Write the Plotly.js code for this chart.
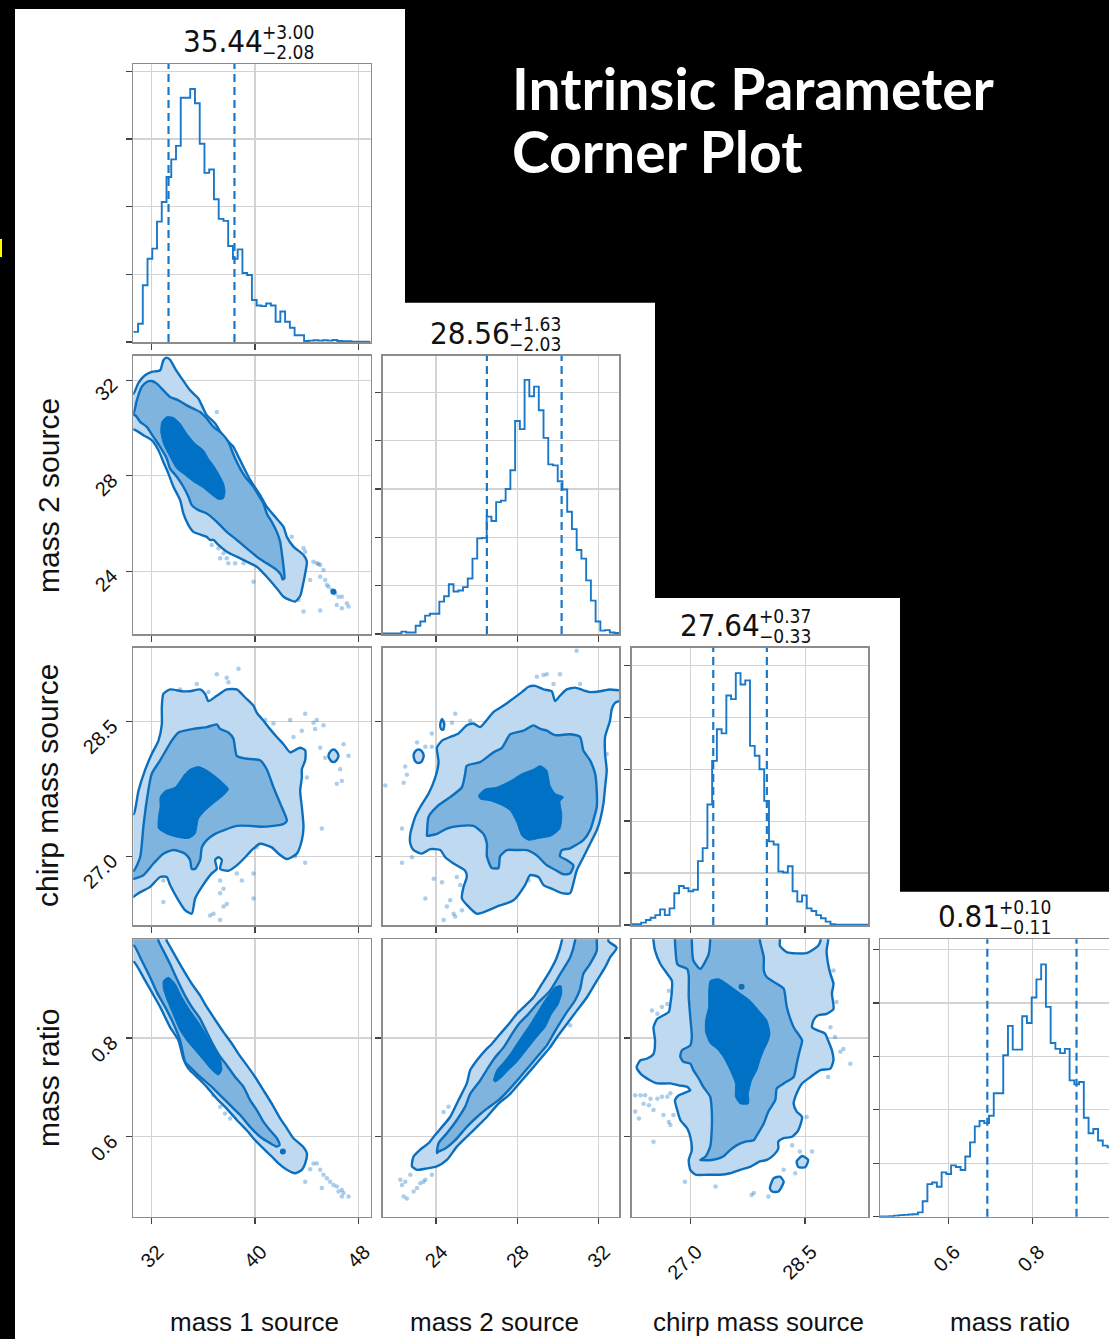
<!DOCTYPE html>
<html><head><meta charset="utf-8">
<script src="https://cdn.plot.ly/plotly-3.0.1.min.js"></script>
<style>html,body{margin:0;padding:0;background:#000;overflow:hidden;width:1109px;height:1339px}#plot{width:1120px;height:1339px}</style>
</head><body><div id="plot"></div><script>
// ---------------- data ----------------
const paramNames = ['mass 1 source','mass 2 source','chirp mass source','mass ratio'];
const medians = ['35.44','28.56','27.64','0.81'];
const errPlus = ['+3.00','+1.63','+0.37','+0.10'];
const errMinus = ['\u22122.08','\u22122.03','\u22120.33','\u22120.11'];
const q16 = [33.30, 26.51, 27.30, 0.6925];
const q84 = [38.41, 30.19, 28.00, 0.904];
const axisRanges = [[30.57,48.95],[21.37,33.03],[26.235,29.325],[0.438,1.0]];
const tickVals = [[32,40,48],[24,28,32],[27.0,28.5],[0.6,0.8]];
const tickFormats = ['d','d','.1f','.1f'];

const hist_m1 = [0.15,0.27,0.84,1.23,1.38,1.78,2.07,2.44,2.70,2.90,
 3.61,3.61,3.74,3.53,2.93,2.50,2.55,2.11,1.82,1.79,
 1.42,1.23,1.37,1.02,0.99,0.62,0.54,0.53,0.57,0.54,
 0.30,0.45,0.30,0.21,0.10,0.10,0.015,0.02,0.025,0.02,
 0.025,0.02,0.03,0.015,0.01,0.01,0.005,0.005,0.005,0.005];
const hist_m2 = [0.01,0.01,0.01,0.01,0.05,0.03,0.03,0.17,0.26,0.38,
 0.42,0.42,0.67,0.78,1.03,0.88,0.90,0.97,1.15,1.56,
 1.98,1.99,2.43,2.34,2.73,2.76,3.00,3.39,4.41,4.24,
 5.26,4.92,5.12,4.63,4.06,3.51,3.49,3.16,2.99,2.53,
 2.17,1.74,1.56,1.11,0.69,0.26,0.07,0.08,0.03,0.02];
const hist_mc = [0.013,0.013,0.045,0.097,0.14,0.19,0.30,0.19,0.32,0.61,
 0.75,0.71,0.65,0.68,1.23,1.48,2.32,3.16,3.77,3.69,
 4.42,4.35,4.85,4.63,4.71,3.45,3.26,3.00,2.39,1.61,
 1.55,1.03,1.01,1.13,0.65,0.45,0.57,0.32,0.27,0.19,
 0.13,0.065,0.013,0.004,0.004,0.004,0.004,0.004,0.004,0.004];
const hist_q = [0.005,0.005,0.01,0.02,0.03,0.035,0.04,0.045,0.08,0.29,
 0.61,0.64,0.56,0.83,0.80,0.96,0.93,0.875,1.125,1.39,
 1.69,1.79,1.75,1.89,2.31,2.31,3.02,3.57,3.125,3.125,
 3.75,3.625,4.10,4.44,4.72,3.925,3.25,3.14,3.06,3.14,
 2.55,2.475,2.52,1.85,1.56,1.64,1.425,1.33,1.30,1.20];

// 2D credible-region outlines, [x, y] in data units (null separates pieces)
const m1m2_outer = [[30.3,31.44],[30.58,31.44],[30.97,31.89],[31.48,32.21],[32.0,32.35],[32.65,32.42],[32.90,32.84],[33.16,32.95],[33.42,32.86],[33.81,32.49],[34.33,32.07],[34.97,31.58],[35.62,31.23],[35.88,30.95],[36.26,30.54],[36.91,30.19],[37.56,29.63],[38.33,29.21],[38.72,28.79],[39.11,28.37],[39.49,27.96],[39.88,27.61],[40.40,27.19],[40.91,26.70],[41.56,26.28],[42.21,25.86],[42.47,25.44],[42.98,25.03],[43.76,24.68],[44.02,24.40],[43.89,23.91],[43.71,23.42],[43.50,22.96],[43.11,22.73],[42.72,22.79],[42.21,22.93],[41.69,23.28],[40.91,23.77],[40.14,24.19],[39.36,24.40],[38.59,24.61],[37.81,24.82],[37.17,25.10],[36.78,25.31],[36.52,25.31],[36.26,25.44],[35.23,25.65],[34.84,25.93],[34.45,26.42],[34.20,26.98],[33.68,27.54],[33.29,28.09],[32.90,28.58],[32.52,29.07],[32.0,29.49],[31.35,29.70],[30.97,29.84],[30.58,29.94],[30.3,29.94]];
const m1m2_mid = [[30.3,30.61],[30.58,30.61],[30.84,31.16],[31.22,31.72],[31.61,31.93],[32.0,31.97],[32.39,31.86],[32.90,31.58],[33.42,31.30],[34.07,31.16],[34.71,30.95],[35.23,30.81],[35.75,30.67],[36.26,30.40],[36.78,30.05],[37.43,29.77],[37.94,29.42],[38.20,29.07],[38.46,28.72],[38.85,28.30],[39.24,27.96],[39.88,27.54],[40.27,27.19],[40.66,26.84],[40.91,26.42],[41.30,26.07],[41.69,25.65],[41.95,25.24],[42.08,24.75],[42.21,24.19],[42.28,23.70],[42.13,23.66],[42.03,23.84],[41.69,24.05],[40.91,24.33],[40.14,24.61],[39.36,24.96],[38.59,25.31],[37.81,25.65],[37.04,26.07],[36.26,26.42],[35.62,26.56],[35.10,26.77],[34.84,27.12],[34.45,27.54],[33.94,27.96],[33.42,28.30],[33.16,28.72],[32.65,29.21],[32.13,29.63],[31.61,30.05],[31.10,30.26],[30.71,30.54],[30.3,30.54]];
const m1m2_core = [[32.78,30.26],[33.16,30.47],[33.68,30.44],[34.20,30.19],[34.71,29.77],[35.36,29.35],[36.01,29.07],[36.39,28.72],[36.78,28.44],[37.17,28.09],[37.56,27.68],[37.68,27.33],[37.56,27.05],[37.17,27.01],[36.52,27.26],[35.88,27.54],[35.23,27.75],[34.58,28.03],[33.94,28.30],[33.42,28.79],[32.90,29.35],[32.70,29.84]];
const m1m2_pts = [[37.04,30.67],[37.04,30.02],[37.81,29.42],[36.65,25.10],[37.17,24.96],[37.56,24.75],[37.81,24.54],[37.30,24.54],[37.94,24.33],[38.46,24.33],[39.11,24.33],[39.88,23.56],[42.85,25.44],[43.76,24.96],[43.89,24.82],[44.53,24.40],[44.79,24.33],[44.92,24.30],[45.05,24.26],[45.31,24.05],[45.05,23.77],[45.44,23.63],[45.57,23.42],[45.70,23.35],[45.95,23.21],[46.21,23.07],[46.47,22.93],[46.73,22.93],[47.12,22.66],[47.25,22.52],[46.73,22.45],[46.34,22.59],[45.05,22.35],[43.76,22.31],[43.37,22.79],[44.27,23.63]];
const m1m2_dots = [[46.08,23.14]];

const m1mc_outer = [[30.3,27.47],[30.6,27.47],[30.97,27.73],[31.48,27.96],[32.0,28.14],[32.52,28.29],[32.78,28.47],[32.78,28.66],[32.90,28.81],[33.42,28.86],[34.33,28.84],[34.97,28.84],[35.75,28.86],[36.14,28.81],[36.39,28.73],[37.04,28.79],[37.81,28.86],[38.59,28.86],[39.24,28.77],[39.88,28.68],[40.14,28.60],[40.66,28.51],[41.04,28.44],[41.69,28.33],[42.21,28.25],[42.72,28.16],[43.50,28.21],[43.89,28.18],[43.89,28.07],[43.63,27.97],[43.63,27.88],[43.50,27.73],[43.63,27.55],[43.76,27.33],[43.63,27.18],[43.24,27.03],[42.47,26.97],[41.82,27.03],[41.30,27.10],[40.40,27.14],[39.75,27.07],[39.24,26.99],[38.59,26.90],[37.94,26.84],[37.30,26.86],[37.43,26.96],[37.17,26.99],[36.91,26.96],[37.04,26.86],[36.65,26.81],[35.88,26.66],[35.36,26.53],[35.10,26.36],[34.58,26.40],[34.07,26.51],[33.42,26.68],[33.16,26.77],[32.65,26.77],[31.87,26.66],[30.97,26.59],[30.6,26.55],[30.3,26.55],null,[45.69,28.12],[45.85,28.17],[46.08,28.19],[46.31,28.17],[46.47,28.12],[46.31,28.07],[46.08,28.05],[45.85,28.07]];
const m1mc_mid = [[30.3,26.84],[30.6,26.84],[31.10,26.99],[31.35,27.33],[31.61,27.62],[32.0,27.92],[32.65,28.07],[33.55,28.29],[34.07,28.38],[35.23,28.42],[36.26,28.44],[37.04,28.47],[37.30,28.42],[37.94,28.38],[38.33,28.31],[38.59,28.12],[39.24,28.09],[40.40,28.07],[40.91,27.97],[41.43,27.77],[41.95,27.59],[42.47,27.40],[42.21,27.36],[41.43,27.34],[40.40,27.33],[39.62,27.34],[38.59,27.34],[37.56,27.29],[36.91,27.25],[36.26,27.18],[35.88,27.10],[35.75,26.96],[35.36,26.86],[35.10,26.86],[34.97,26.96],[34.58,27.03],[33.68,27.07],[32.90,27.03],[32.13,26.92],[31.35,26.79],[30.6,26.75],[30.3,26.75]];
const m1mc_core = [[32.65,27.66],[33.03,27.73],[33.81,27.77],[34.58,27.92],[34.97,27.97],[35.62,28.00],[36.26,27.96],[37.04,27.88],[37.94,27.75],[37.56,27.68],[36.78,27.59],[36.14,27.51],[35.62,27.42],[35.36,27.25],[34.84,27.20],[34.07,27.21],[33.16,27.25],[32.52,27.31],[32.52,27.44],[32.65,27.55]];
const m1mc_pts = [[37.04,29.03],[37.81,28.99],[38.72,29.09],[35.49,28.92],[36.39,28.83],[34.20,28.86],[37.94,28.94],[40.79,28.52],[41.43,28.48],[42.72,28.52],[43.89,28.59],[44.53,28.49],[44.79,28.52],[44.66,28.42],[45.31,28.46],[42.98,28.33],[43.63,28.40],[45.05,28.21],[45.44,28.10],[46.60,27.97],[47.25,28.12],[46.86,28.25],[46.34,27.81],[46.73,27.84],[44.02,27.88],[45.18,27.31],[43.89,26.93],[43.11,27.00],[40.14,27.10],[39.88,26.81],[39.88,26.53],[38.98,26.73],[38.59,26.81],[37.30,26.73],[37.56,26.64],[37.30,26.59],[37.81,26.47],[37.56,26.44],[36.78,26.36],[37.30,26.29],[36.52,26.34],[32.90,26.49],[32.90,26.73]];

const m2mc_outer = [[22.74,27.25],[22.98,27.44],[23.23,27.55],[23.64,27.70],[23.97,27.88],[24.13,28.05],[24.05,28.21],[24.30,28.29],[24.70,28.33],[25.11,28.37],[25.52,28.46],[25.85,28.48],[26.18,28.44],[26.51,28.52],[26.84,28.61],[27.33,28.68],[27.82,28.76],[28.23,28.83],[28.56,28.89],[28.89,28.90],[29.30,28.86],[29.70,28.84],[29.87,28.73],[30.11,28.79],[30.44,28.86],[30.85,28.88],[31.26,28.85],[31.59,28.83],[32.08,28.84],[32.57,28.86],[33.03,28.85],[33.3,28.85],[33.3,28.73],[33.03,28.73],[32.82,28.71],[32.66,28.64],[32.57,28.51],[32.33,28.33],[32.33,28.14],[32.41,27.96],[32.33,27.77],[32.25,27.59],[32.08,27.40],[31.92,27.29],[31.59,27.14],[31.26,26.99],[30.93,26.84],[30.77,26.70],[30.61,26.59],[30.20,26.59],[29.70,26.64],[29.30,26.68],[29.05,26.77],[28.64,26.79],[28.39,26.68],[27.82,26.51],[27.00,26.44],[26.02,26.36],[25.52,26.46],[25.28,26.53],[25.36,26.66],[25.52,26.77],[25.44,26.84],[24.87,26.92],[24.46,26.99],[24.21,27.07],[23.72,27.08],[23.31,27.03],[22.90,27.07],[22.74,27.14],null,[22.90,28.12],[22.98,28.17],[23.15,28.19],[23.31,28.17],[23.40,28.12],[23.31,28.06],[23.15,28.04],[22.98,28.06],null,[24.21,28.47],[24.30,28.53],[24.41,28.48],[24.36,28.41],[24.25,28.42]];
const m2mc_mid = [[23.56,27.25],[23.64,27.44],[24.13,27.57],[24.70,27.66],[25.28,27.77],[25.44,27.92],[25.52,28.01],[26.18,28.05],[26.84,28.16],[27.25,28.21],[27.66,28.36],[28.31,28.40],[28.80,28.46],[29.13,28.42],[29.46,28.40],[29.87,28.35],[30.61,28.36],[31.10,28.33],[31.26,28.18],[31.59,28.07],[31.84,27.92],[31.92,27.73],[31.92,27.55],[31.75,27.40],[31.59,27.29],[31.26,27.18],[30.61,27.09],[30.20,27.07],[30.11,27.00],[30.44,26.96],[30.77,26.90],[30.61,26.81],[30.28,26.80],[29.87,26.85],[29.46,26.90],[28.97,27.01],[28.48,27.07],[27.98,27.07],[27.49,27.07],[27.16,27.00],[27.08,26.87],[26.75,26.87],[26.51,27.00],[26.51,27.14],[26.34,27.25],[25.85,27.34],[25.20,27.34],[24.54,27.31],[24.05,27.25],[23.56,27.23]];
const m2mc_core = [[26.10,27.68],[26.43,27.75],[27.00,27.77],[27.66,27.84],[28.23,27.92],[28.80,27.97],[29.13,28.01],[29.46,27.96],[29.62,27.79],[29.87,27.70],[30.28,27.66],[30.11,27.61],[30.20,27.46],[30.11,27.31],[29.70,27.23],[29.05,27.20],[28.56,27.18],[28.23,27.23],[27.98,27.38],[27.66,27.51],[27.25,27.57],[26.67,27.62],[26.18,27.64]];
const m2mc_pts = [[29.46,29.03],[29.79,28.92],[31.10,28.92],[28.97,29.00],[29.30,29.02],[30.11,29.03],[25.69,28.51],[24.95,28.59],[24.79,28.49],[25.03,28.33],[23.80,28.37],[23.48,28.22],[23.80,28.22],[23.07,28.27],[22.49,28.00],[22.57,27.91],[22.41,27.82],[21.51,27.79],[22.33,27.31],[22.82,26.99],[22.33,26.93],[23.89,26.75],[24.30,26.71],[25.03,26.77],[25.20,26.68],[24.70,26.51],[24.54,26.44],[24.87,26.36],[25.28,26.40],[24.38,26.29],[24.95,26.33],[23.48,26.53],[28.31,26.73],[28.56,26.73],[32.41,28.14],[32.25,28.20],[30.93,29.29]];

const m1q_outer = [[30.3,0.954],[30.63,0.954],[31.35,0.923],[32.0,0.893],[32.65,0.863],[33.42,0.822],[34.07,0.795],[34.45,0.758],[34.84,0.738],[35.62,0.718],[36.26,0.701],[37.04,0.677],[37.81,0.657],[38.59,0.634],[39.36,0.613],[40.01,0.593],[40.66,0.576],[41.30,0.560],[41.82,0.546],[42.47,0.533],[43.11,0.526],[43.63,0.533],[43.89,0.546],[44.02,0.566],[43.71,0.580],[42.98,0.597],[42.47,0.617],[41.95,0.637],[41.30,0.667],[40.66,0.694],[40.01,0.721],[39.36,0.745],[38.72,0.768],[38.20,0.789],[37.56,0.812],[37.04,0.832],[36.26,0.863],[35.75,0.886],[35.10,0.910],[34.33,0.943],[33.81,0.967],[33.29,0.991],[33.16,0.997],[33.0,1.03],[30.3,1.03]];
const m1q_mid = [[30.3,0.987],[30.63,0.987],[31.22,0.957],[31.87,0.923],[32.39,0.893],[33.03,0.863],[33.68,0.829],[34.20,0.795],[34.58,0.752],[34.97,0.741],[35.75,0.721],[36.52,0.704],[37.30,0.684],[38.07,0.664],[38.85,0.644],[39.62,0.620],[40.40,0.600],[41.17,0.587],[41.69,0.580],[41.90,0.583],[41.69,0.597],[41.17,0.613],[40.66,0.630],[40.14,0.654],[39.62,0.674],[39.11,0.701],[38.46,0.721],[37.81,0.745],[37.30,0.762],[36.78,0.785],[36.26,0.812],[35.75,0.839],[35.10,0.863],[34.58,0.886],[33.94,0.920],[33.42,0.950],[32.90,0.977],[32.52,0.997],[32.4,1.03],[30.3,1.03]];
const m1q_core = [[32.90,0.916],[33.29,0.923],[33.81,0.910],[34.33,0.883],[34.97,0.856],[35.62,0.832],[36.26,0.805],[36.78,0.782],[37.30,0.758],[37.43,0.735],[37.17,0.725],[36.65,0.735],[36.01,0.755],[35.36,0.775],[34.71,0.795],[34.20,0.815],[33.68,0.846],[33.16,0.879],[32.90,0.900]];
const m1q_pts = [[37.04,0.826],[36.78,0.684],[37.30,0.661],[37.68,0.647],[38.07,0.637],[44.53,0.546],[44.79,0.546],[45.05,0.533],[45.31,0.523],[45.57,0.516],[45.82,0.509],[46.08,0.502],[46.34,0.499],[46.73,0.492],[46.86,0.486],[46.47,0.489],[46.73,0.479],[47.25,0.479],[43.89,0.509],[45.18,0.496],[44.27,0.534]];
const m1q_dots = [[42.16,0.570]];

const m2q_outer = [[22.82,0.546],[22.90,0.560],[23.23,0.574],[23.64,0.587],[23.97,0.604],[24.30,0.620],[24.70,0.640],[25.11,0.674],[25.52,0.708],[25.69,0.735],[26.02,0.755],[26.43,0.775],[26.75,0.788],[27.16,0.808],[27.66,0.832],[27.98,0.849],[28.31,0.862],[28.80,0.882],[29.21,0.909],[29.62,0.936],[29.95,0.963],[30.20,0.997],[30.3,1.03],[32.7,1.03],[32.49,0.997],[32.90,0.983],[32.57,0.963],[32.33,0.943],[31.92,0.916],[31.43,0.882],[30.93,0.855],[30.44,0.828],[29.95,0.801],[29.62,0.781],[29.21,0.761],[28.80,0.741],[28.23,0.714],[27.66,0.687],[27.08,0.667],[26.51,0.640],[26.02,0.620],[25.52,0.600],[25.03,0.580],[24.54,0.553],[24.05,0.540],[23.56,0.536],[23.07,0.533],[22.82,0.540]];
const m2q_mid = [[24.05,0.567],[24.13,0.587],[24.54,0.607],[25.03,0.634],[25.44,0.661],[25.69,0.687],[26.18,0.714],[26.59,0.741],[26.92,0.761],[27.33,0.781],[27.74,0.808],[28.07,0.828],[28.56,0.849],[28.97,0.869],[29.62,0.896],[30.11,0.929],[30.61,0.963],[30.85,0.997],[30.9,1.03],[31.92,1.03],[31.92,0.997],[31.92,0.977],[31.59,0.950],[31.26,0.930],[31.10,0.899],[30.85,0.876],[30.44,0.852],[30.03,0.825],[29.70,0.802],[29.46,0.785],[29.05,0.765],[28.64,0.745],[28.15,0.721],[27.57,0.694],[27.08,0.674],[26.51,0.657],[26.02,0.640],[25.52,0.620],[24.95,0.593],[24.46,0.576],[24.13,0.570]];
const m2q_core = [[26.84,0.714],[27.00,0.735],[27.33,0.751],[27.66,0.768],[27.98,0.788],[28.31,0.808],[28.64,0.828],[29.05,0.855],[29.46,0.882],[29.87,0.903],[30.15,0.906],[30.20,0.892],[30.03,0.869],[29.70,0.849],[29.38,0.822],[28.97,0.802],[28.64,0.785],[28.31,0.768],[27.98,0.751],[27.57,0.735],[27.25,0.721],[26.92,0.711]];
const m2q_pts = [[22.74,0.523],[22.49,0.509],[22.33,0.502],[22.41,0.479],[22.57,0.475],[22.90,0.489],[23.07,0.496],[23.23,0.506],[23.39,0.509],[23.48,0.513],[23.80,0.523],[22.25,0.513],[24.38,0.650],[24.62,0.661],[30.61,0.826]];

const mcq_outer = [[26.51,1.03],[26.52,0.997],[26.54,0.977],[26.61,0.950],[26.70,0.930],[26.76,0.916],[26.76,0.896],[26.74,0.869],[26.72,0.853],[26.65,0.846],[26.57,0.839],[26.52,0.822],[26.54,0.795],[26.52,0.768],[26.43,0.758],[26.35,0.755],[26.30,0.741],[26.35,0.728],[26.48,0.714],[26.57,0.708],[26.74,0.708],[26.85,0.704],[26.96,0.701],[27.00,0.694],[26.91,0.688],[26.85,0.684],[26.80,0.674],[26.83,0.654],[26.87,0.634],[26.96,0.617],[27.00,0.600],[27.02,0.573],[26.98,0.553],[27.00,0.533],[27.07,0.523],[27.22,0.523],[27.39,0.523],[27.52,0.526],[27.65,0.533],[27.78,0.539],[27.91,0.550],[28.00,0.553],[28.09,0.563],[28.15,0.576],[28.15,0.590],[28.22,0.597],[28.33,0.600],[28.41,0.613],[28.46,0.640],[28.39,0.651],[28.35,0.667],[28.39,0.688],[28.46,0.708],[28.57,0.721],[28.70,0.735],[28.83,0.738],[28.87,0.755],[28.85,0.775],[28.80,0.795],[28.76,0.809],[28.67,0.815],[28.59,0.822],[28.61,0.836],[28.67,0.846],[28.78,0.849],[28.87,0.859],[28.85,0.890],[28.87,0.910],[28.83,0.930],[28.80,0.950],[28.78,0.977],[28.80,0.997],[28.80,1.03],[28.70,1.03],[28.70,0.997],[28.67,0.987],[28.52,0.972],[28.26,0.974],[28.17,0.987],[28.17,0.997],[28.17,1.03],null,[28.39,0.550],[28.46,0.561],[28.54,0.553],[28.50,0.538],[28.41,0.539],null,[28.04,0.496],[28.09,0.516],[28.17,0.519],[28.22,0.509],[28.15,0.489],[28.07,0.489]];
const mcq_mid = [[26.80,1.03],[26.80,0.997],[26.83,0.950],[26.85,0.947],[26.96,0.940],[26.98,0.927],[26.98,0.883],[27.00,0.842],[27.02,0.802],[27.00,0.785],[26.89,0.775],[26.87,0.762],[26.91,0.752],[27.00,0.748],[27.04,0.735],[27.11,0.718],[27.17,0.701],[27.26,0.681],[27.28,0.654],[27.28,0.613],[27.26,0.580],[27.20,0.560],[27.13,0.553],[27.28,0.553],[27.43,0.560],[27.52,0.573],[27.61,0.583],[27.72,0.590],[27.83,0.593],[27.87,0.603],[27.96,0.627],[28.02,0.651],[28.11,0.674],[28.13,0.698],[28.22,0.708],[28.35,0.721],[28.39,0.748],[28.43,0.775],[28.46,0.795],[28.35,0.822],[28.26,0.863],[28.22,0.900],[28.13,0.910],[28.00,0.923],[27.96,0.937],[27.96,0.964],[27.91,0.997],[27.91,1.03],[27.26,1.03],[27.26,0.997],[27.24,0.970],[27.13,0.940],[27.04,0.957],[27.02,0.997],[27.02,1.03]];
const mcq_core = [[27.26,0.916],[27.37,0.920],[27.48,0.910],[27.63,0.893],[27.78,0.876],[27.91,0.853],[28.00,0.836],[28.04,0.809],[28.02,0.795],[27.96,0.775],[27.91,0.755],[27.87,0.735],[27.80,0.714],[27.76,0.688],[27.76,0.667],[27.65,0.667],[27.59,0.681],[27.59,0.708],[27.52,0.735],[27.43,0.762],[27.35,0.778],[27.26,0.789],[27.20,0.812],[27.20,0.836],[27.24,0.863],[27.24,0.890]];
const mcq_pts = [[26.28,0.684],[26.35,0.684],[26.41,0.684],[26.48,0.677],[26.57,0.677],[26.63,0.681],[26.70,0.681],[26.74,0.688],[26.46,0.664],[26.39,0.667],[26.52,0.654],[26.28,0.651],[26.33,0.637],[26.65,0.644],[26.78,0.644],[26.72,0.630],[26.74,0.624],[26.52,0.590],[26.70,0.869],[26.72,0.896],[26.63,0.863],[26.50,0.856],[26.57,0.849],[28.87,0.937],[28.91,0.873],[28.83,0.822],[28.89,0.802],[29.00,0.778],[28.96,0.772],[29.09,0.748],[28.80,0.721],[28.52,0.640],[28.33,0.583],[28.43,0.570],[28.59,0.570],[28.37,0.526],[28.22,0.533],[27.83,0.486],[27.80,0.482],[27.33,0.499],[26.93,0.509],[28.02,0.479]];
const mcq_dots = [[27.67,0.904]];

// ---------------- layout geometry (pixels) ----------------
const W = 1120, H = 1339;
const colPx = [[133.3,370.5],[382.5,619.3],[631.7,868.3],[880,1117]];
const rowPx = [[64,342],[355.7,634],[647.7,925],[939.3,1216.7]];
const histTop = [4.11, 5.76, 5.34, 5.19];
const histTicks = [[0,1,2,3,4],[0,1,2,3,4,5],[0,1,2,3,4,5],[0,1,2,3,4,5]];
const hists = [hist_m1, hist_m2, hist_mc, hist_q];
const panels2d = {
  '1,0': [m1m2_outer, m1m2_mid, m1m2_core, m1m2_pts, m1m2_dots],
  '2,0': [m1mc_outer, m1mc_mid, m1mc_core, m1mc_pts, []],
  '2,1': [m2mc_outer, m2mc_mid, m2mc_core, m2mc_pts, []],
  '3,0': [m1q_outer, m1q_mid, m1q_core, m1q_pts, m1q_dots],
  '3,1': [m2q_outer, m2q_mid, m2q_core, m2q_pts, []],
  '3,2': [mcq_outer, mcq_mid, mcq_core, mcq_pts, mcq_dots]
};
const fills = ['#bfdaf0', '#7fb4de', '#0071c5'];
const lineCol = '#0b6fbe';
const histCol = '#1a78c8';

function X(px){ return px / W; }
function Y(py){ return 1 - py / H; }
function ring(pairs){
  const xs = [], ys = [];
  let seg = [];
  const flush = () => { if(seg.length){ seg.forEach(p=>{xs.push(p[0]);ys.push(p[1]);}); xs.push(seg[0][0]); ys.push(seg[0][1]); seg = []; } };
  pairs.forEach(p => { if(p === null){ flush(); xs.push(null); ys.push(null); } else seg.push(p); });
  flush();
  return {x: xs, y: ys};
}

const axBase = {showline:true, mirror:true, linecolor:'#8c8c8c', linewidth:1.5,
  showgrid:true, gridcolor:'#d3d3d3', gridwidth:1.2, zeroline:false,
  ticks:'outside', ticklen:6, tickwidth:1.3, tickcolor:'#444',
  tickfont:{family:'Liberation Sans, Arial, sans-serif', size:20, color:'#111'},
  tickangle:-45, fixedrange:true};

const traces = [];
const layout = {width:W, height:H, margin:{l:0,r:0,t:0,b:0}, paper_bgcolor:'#000', plot_bgcolor:'#fff',
  showlegend:false, shapes:[], annotations:[], hovermode:false};

// staircase white background (overlapping pieces to avoid seams)
[[15,405,9],[403,655,302.7],[653,900,598],[898,W,891.7]].forEach(b => {
  layout.shapes.push({type:'rect', xref:'paper', yref:'paper', x0:X(b[0]), x1:X(b[1]), y0:-0.01, y1:Y(b[2]),
    fillcolor:'#fff', line:{width:0}, layer:'below'});
});
layout.shapes.push({type:'rect', xref:'paper', yref:'paper', x0:0, x1:X(2), y0:Y(257), y1:Y(239), fillcolor:'#ffff00', line:{width:0}, layer:'below'});

let k = 0;
for (let r = 0; r < 4; r++) for (let c = 0; c <= r; c++) {
  k++;
  const sfx = k === 1 ? '' : String(k);
  const xa = 'x' + sfx, ya = 'y' + sfx;
  layout['xaxis' + sfx] = Object.assign({}, axBase, {
    domain:[X(colPx[c][0]), X(colPx[c][1])], range:axisRanges[c], tickvals:tickVals[c], tickformat:tickFormats[c],
    showticklabels: r === 3, anchor: ya, ticklabelstandoff: 8, ticklabelshift: 6});
  if (r === c) {
    layout['yaxis' + sfx] = Object.assign({}, axBase, {
      domain:[Y(rowPx[r][1]), Y(rowPx[r][0])], range:[0, histTop[r]], tickvals:histTicks[r],
      showticklabels:false, anchor: xa});
    const vals = hists[r];
    const w = (axisRanges[r][1] - axisRanges[r][0]) / vals.length;
    traces.push({type:'scatter', mode:'lines', x0:axisRanges[r][0], dx:w, y:vals.concat([vals[vals.length-1]]),
      line:{shape:'hv', color:histCol, width:1.9}, xaxis:xa, yaxis:ya, hoverinfo:'skip'});
    [q16[r], q84[r]].forEach(v => layout.shapes.push({type:'line', xref:xa, yref:ya + ' domain', x0:v, x1:v, y0:0, y1:1,
      line:{color:histCol, width:2.2, dash:'8px,5px'}}));
    // panel title: median with +/- errors
    const top = rowPx[r][0];
    const split = [262, 508.5, 758.5, 998.5][r];
    const tf = {family:'DejaVu Sans Condensed, DejaVu Sans, sans-serif', color:'#111'};
    layout.annotations.push({xref:'paper', yref:'paper', x:X(split + 3), y:Y(top - 23), xanchor:'right', yanchor:'middle',
      text:medians[r], showarrow:false, font:Object.assign({size:31}, tf)});
    layout.annotations.push({xref:'paper', yref:'paper', x:X(split - 2), y:Y(top - 32), xanchor:'left', yanchor:'middle',
      text:errPlus[r], showarrow:false, font:Object.assign({size:19}, tf)});
    layout.annotations.push({xref:'paper', yref:'paper', x:X(split - 2), y:Y(top - 12), xanchor:'left', yanchor:'middle',
      text:errMinus[r], showarrow:false, font:Object.assign({size:19}, tf)});
  } else {
    layout['yaxis' + sfx] = Object.assign({}, axBase, {
      domain:[Y(rowPx[r][1]), Y(rowPx[r][0])], range:axisRanges[r], tickvals:tickVals[r], tickformat:tickFormats[r],
      showticklabels: c === 0, anchor: xa, ticklabelstandoff: 10, ticklabelshift: 2});
    const p = panels2d[r + ',' + c];
    const pts = p[3];
    traces.push({type:'scatter', mode:'markers', x:pts.map(q=>q[0]), y:pts.map(q=>q[1]),
      marker:{size:4.5, color:'rgba(20,115,195,0.35)'}, xaxis:xa, yaxis:ya, hoverinfo:'skip'});
    for (let L = 0; L < 3; L++) {
      const g = ring(p[L]);
      traces.push({type:'scatter', mode:'lines', x:g.x, y:g.y, fill:'toself', fillcolor:fills[L],
        line:{color: L === 2 ? fills[2] : lineCol, width: L === 2 ? 1 : 2.4, shape:'spline', smoothing:0.6},
        connectgaps:false, xaxis:xa, yaxis:ya, hoverinfo:'skip'});
    }
    if (p[4].length) traces.push({type:'scatter', mode:'markers', x:p[4].map(q=>q[0]), y:p[4].map(q=>q[1]),
      marker:{size:6, color:lineCol}, xaxis:xa, yaxis:ya, hoverinfo:'skip'});
  }
}

// axis titles
const labFont = {family:'Liberation Sans, Arial, sans-serif', size:26, color:'#111'};
const labFontV = {family:'Liberation Sans, Arial, sans-serif', size:30, color:'#111'};
[254, 494, 758, 1010].forEach((cx, i) => layout.annotations.push({xref:'paper', yref:'paper', x:X(cx), y:Y(1322),
  xanchor:'center', yanchor:'middle', text:paramNames[i], showarrow:false, font:labFont}));
[496, 786, 1078].forEach((cy, i) => layout.annotations.push({xref:'paper', yref:'paper', x:X(48), y:Y(cy),
  xanchor:'center', yanchor:'middle', textangle:-90, text:paramNames[i + 1], showarrow:false, font:labFontV}));

// big title
const tFont = {family:'Lato, Inter, sans-serif', size:57, color:'#fff', weight:700};
layout.annotations.push({xref:'paper', yref:'paper', x:X(510), y:Y(88), xanchor:'left', yanchor:'middle',
  text:'Intrinsic Parameter', showarrow:false, font:tFont});
layout.annotations.push({xref:'paper', yref:'paper', x:X(510), y:Y(151), xanchor:'left', yanchor:'middle',
  text:'Corner Plot', showarrow:false, font:tFont});

Plotly.newPlot('plot', traces, layout, {displayModeBar:false, staticPlot:true});
</script></body></html>
